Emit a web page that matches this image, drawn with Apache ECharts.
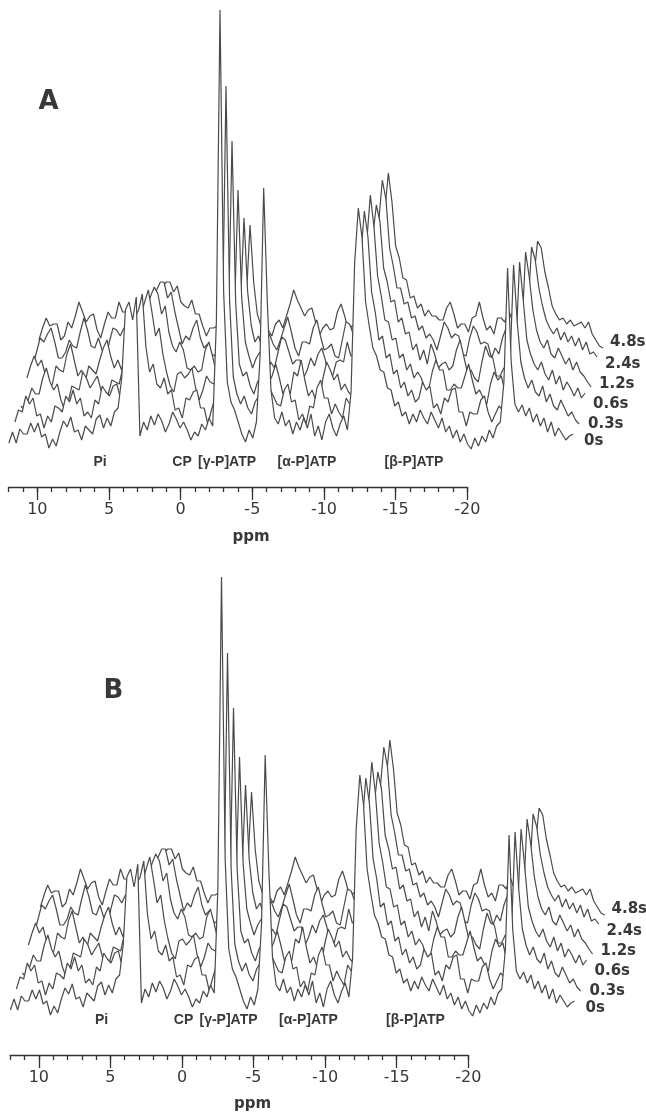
<!DOCTYPE html>
<html><head><meta charset="utf-8">
<script src="https://cdn.jsdelivr.net/npm/echarts@6.0.0/dist/echarts.min.js"></script>
<style>html,body{margin:0;padding:0;background:#fff}#c{width:646px;height:1114px}</style>
</head><body><div id="c"></div>
<script>
// ---- data ----
const timeLabels = ['0s', '0.3s', '0.6s', '1.2s', '2.4s', '4.8s'];
const peakLabels = ['Pi', 'CP', '[\u03b3-P]ATP', '[\u03b1-P]ATP', '[\u03b2-P]ATP'];
const axisTickValues = [10, 5, 0, -5, -10, -15, -20];
const axisMinorValues = [12, 11, 10, 9, 8, 7, 6, 5, 4, 3, 2, 1, 0, -1, -2, -3, -4, -5, -6, -7, -8, -9, -10,
  -11, -12, -13, -14, -15, -16, -17, -18, -19, -20];
const panelLetters = ['A', 'B'];
// spectra sampled every 0.2 ppm from +11.6 down to -19.4 ppm (chemical shift relative to CP)
const PPM_START = 11.6, PPM_STEP = 0.2;
const trace0s = [9,20,9,23,18,18,29,20,29,15,
 18,4,13,6,20,31,25,35,20,22,
 12,26,22,18,33,37,24,34,26,40,
 44,74,142,150,132,155,16,30,22,36,
 27,38,31,20,28,40,33,24,30,22,
 12,20,16,28,22,34,26,130,
 442,
 160,70,50,42,30,18,10,22,14,30,95,
 264,150,62,34,28,40,26,32,18,30,22,
 34,24,38,16,26,12,30,38,24,16,28,36,
 22,60,190,244,
 215,150,126,104,96,82,80,64,62,46,50,36,40,28,
 38,30,42,34,28,40,32,24,34,20,26,14,22,10,18,8,3,14,6,16,10,22,14,26,30,70,
 184,90,48,40,47,36,44,30,38,26,34,20,30,16,24,18,12,16,18];
const trace03s = [10,22,20,36,28,34,16,18,4,16,
 10,26,24,20,36,30,42,28,34,16,
 20,14,32,28,46,40,36,46,48,34,
 40,60,95,115,122,138,85,60,68,48,
 44,54,38,42,22,24,14,34,32,40,
 42,24,24,8,22,34,28,100,
 346,
 130,55,38,28,36,24,18,30,36,22,34,
 44,36,28,26,42,48,30,32,12,18,8,
 26,24,44,52,34,34,18,28,20,14,34,28,
 30,65,175,221,
 195,140,120,92,96,74,78,58,62,44,50,36,42,30,
 34,50,42,46,24,28,18,34,30,42,44,20,20,6,20,18,18,32,36,20,10,18,26,22,30,65,
 167,110,70,54,44,52,40,36,46,30,38,26,22,32,24,16,20,12,8];
const trace06s = [6,2,12,24,18,18,34,44,30,22,
 28,12,2,10,26,24,22,40,34,24,
 30,36,22,8,18,32,30,28,44,52,
 42,55,78,98,110,122,100,76,84,58,
 40,26,20,38,40,34,38,44,24,12,
 22,36,30,28,36,40,26,85,
 271,
 110,48,36,40,26,18,30,36,24,28,36,
 48,34,18,24,18,40,36,52,32,16,22,
 12,10,34,50,42,32,38,22,28,20,16,30,
 34,70,170,217,
 185,136,116,92,90,72,74,54,58,42,48,34,40,34,
 22,22,40,52,42,42,22,22,28,24,24,36,48,32,18,22,14,8,28,40,32,36,20,24,32,65,
 150,112,72,58,48,42,50,38,32,42,28,36,22,30,24,16,24,14,19];
const trace12s = [14,26,36,26,32,18,2,8,26,22,
 20,38,48,32,16,22,10,26,22,18,
 32,44,52,36,24,32,22,36,30,42,
 36,50,68,84,96,105,98,78,86,60,
 46,40,50,42,24,22,26,20,22,42,
 50,36,20,22,26,20,30,75,
 202,
 95,50,36,24,34,40,26,18,30,24,40,
 55,52,40,28,32,32,14,22,34,26,38,
 44,32,12,16,30,32,30,50,36,36,18,26,
 34,70,155,187,
 170,124,110,90,92,70,74,58,60,42,48,32,42,28,
 48,38,24,28,30,22,26,42,52,36,20,22,14,10,30,46,36,34,16,16,24,22,24,36,34,62,
 140,115,82,62,50,44,52,38,34,44,36,28,34,22,30,20,16,10,5];
const trace24s = [6,20,34,30,38,44,30,14,14,20,
 32,26,24,40,54,42,26,24,34,22,
 14,30,44,42,36,44,44,26,16,30,
 40,48,60,72,82,90,90,74,80,60,
 44,28,36,32,44,52,34,24,28,18,
 16,34,36,30,36,36,22,65,
 154,
 80,46,30,36,24,30,38,28,22,32,44,
 55,40,24,16,30,30,28,44,52,36,22,
 24,28,16,14,32,50,48,38,26,30,32,22,
 33,70,150,192,
 172,124,106,84,84,68,70,54,56,42,46,34,38,32,
 22,36,50,44,34,38,36,18,16,34,46,40,28,30,28,14,24,18,34,44,28,30,18,26,34,62,
 125,112,84,66,52,44,38,44,32,40,30,36,26,34,22,30,18,20,15];
const trace48s = [12,24,34,26,28,28,12,16,30,24,
 36,50,40,30,36,38,22,14,28,40,
 34,34,50,40,40,42,22,30,28,38,
 38,44,52,60,66,70,70,60,66,50,
 46,44,52,38,38,26,16,24,24,26,
 30,42,32,20,24,26,22,55,
 127,
 70,38,26,30,22,16,28,32,24,36,48,
 62,52,44,36,42,44,30,16,24,28,22,
 24,40,48,36,22,26,28,18,18,34,36,32,
 32,65,140,179,
 150,106,94,74,72,54,56,44,48,36,42,36,36,32,
 32,44,50,38,24,28,28,20,34,36,50,34,22,26,18,34,34,30,42,32,32,16,24,22,34,75,
 111,104,80,64,46,38,32,34,28,32,26,28,30,24,30,18,12,6,4];
const spectraA = [trace0s, trace03s, trace06s, trace12s, trace24s, trace48s];
const spectraB = [trace0s, trace03s, trace06s, trace12s, trace24s, trace48s];

// ---- drawing ----
const SHIFT_PPM = 0.33, SHIFT_Y = 20;       // stacked-plot offset between successive spectra
const LINE = '#4a4a4a', TXT = '#383838', FONT = 'DejaVu Sans';
const ppmGrid = trace0s.map((_, k) => +(PPM_START - k * PPM_STEP).toFixed(2));

function stackSeries(spectra, xi, yi) {
  const out = [];
  for (let i = spectra.length - 1; i >= 0; i--) {
    out.push({
      type: 'line', xAxisIndex: xi, yAxisIndex: yi, symbol: 'none', silent: true,
      animation: false, z: 20 - i,
      lineStyle: { color: LINE, width: 1.2 },
      areaStyle: { color: '#ffffff', opacity: 1, origin: 'start' },
      data: spectra[i].map((v, k) => [ppmGrid[k] - i * SHIFT_PPM, v + i * SHIFT_Y])
    });
  }
  return out;
}
function specAxis(gi) {
  return { gridIndex: gi, type: 'value', inverse: true, min: -22, max: 12, show: false };
}
const axLS = { color: '#333', width: 1.3 };
function ppmAxis(gi) {
  return {
    gridIndex: gi, type: 'value', inverse: true, min: -20, max: 12, interval: 5, position: 'bottom',
    axisLine: { show: true, lineStyle: axLS },
    axisTick: { show: true, length: 13, customValues: axisTickValues, lineStyle: axLS },
    minorTick: { show: false },
    axisLabel: { customValues: axisTickValues, fontSize: 16, margin: 15, color: TXT, fontFamily: FONT },
    splitLine: { show: false }
  };
}
function minorAxis(gi) {
  return {
    gridIndex: gi, type: 'value', inverse: true, min: -20, max: 12, interval: 5, position: 'bottom',
    axisLine: { show: false },
    axisTick: { show: true, length: 5, customValues: axisMinorValues, lineStyle: axLS },
    axisLabel: { show: false }, splitLine: { show: false }
  };
}
function hiddenY(gi, max) { return { gridIndex: gi, type: 'value', min: 0, max: max, show: false }; }

function txt(t, x, y, size, weight, align, family) {
  return { type: 'text', x: x, y: y, z: 100, silent: true,
    style: { text: t, fill: TXT, font: (weight || 'normal') + ' ' + size + 'px "' + (family || FONT) + '"',
      align: align || 'center', verticalAlign: 'middle',
      textAlign: align || 'center', textVerticalAlign: 'middle' } };
}
const elements = [];
const panels = [{ dx: 0, dy: 0, letter: [48.5, 102.5], labelsY: 462 },
                { dx: 1.5, dy: 567, letter: [113.5, 691], labelsY: 1020 }];
const peakX = [100, 182, 227, 307, 414];
const timePos = [[584, 441], [588, 424], [593, 404], [599, 384], [605, 364], [610, 342]];
panels.forEach((p, pi) => {
  elements.push(txt(panelLetters[pi], p.letter[0], p.letter[1], 26, 'bold'));
  peakLabels.forEach((l, j) => elements.push(txt(l, peakX[j] + p.dx, p.labelsY, 14, 'bold', 'center', 'Liberation Sans')));
  timeLabels.forEach((l, j) => elements.push(txt(l, timePos[j][0] + p.dx, timePos[j][1] + p.dy, 15, 'bold', 'left')));
  elements.push(txt('ppm', 251 + p.dx, 537 + p.dy, 15, 'bold'));
});

const chart = echarts.init(document.getElementById('c'), null, { renderer: 'canvas' });
chart.setOption({
  backgroundColor: '#ffffff',
  animation: false,
  grid: [
    { left: 1.6, top: 0, width: 618.8, height: 452 },
    { left: 8.7, top: 480, width: 458.6, height: 7 },
    { left: 3.1, top: 567, width: 618.8, height: 452 },
    { left: 10.2, top: 1048, width: 458.1, height: 7 }
  ],
  xAxis: [specAxis(0), ppmAxis(1), specAxis(2), ppmAxis(3), minorAxis(1), minorAxis(3)],
  yAxis: [hiddenY(0, 452), hiddenY(1, 1), hiddenY(2, 452), hiddenY(3, 1)],
  series: [].concat(stackSeries(spectraA, 0, 0), stackSeries(spectraB, 2, 2)),
  graphic: { elements: elements }
});
</script></body></html>
